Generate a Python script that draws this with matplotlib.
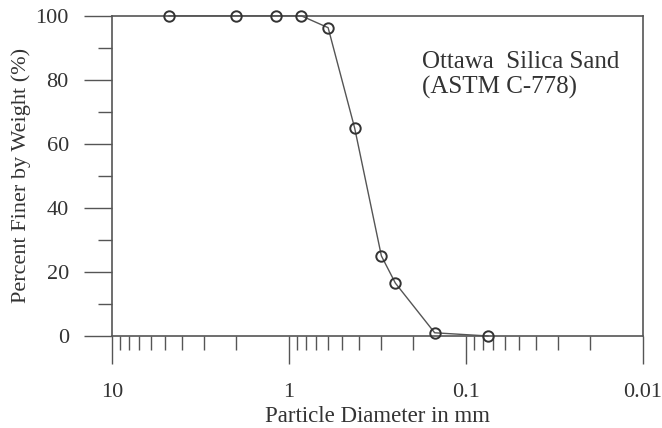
import numpy as np
import matplotlib.pyplot as plt
from matplotlib.ticker import FixedLocator, NullFormatter

# sieve data
diameter_mm = [4.75, 2.0, 1.18, 0.85, 0.6, 0.425, 0.3, 0.25, 0.15, 0.075]
percent_finer = [100, 100, 100, 100, 96.3, 65, 25, 16.5, 1, 0]

x_major = [10, 1, 0.1, 0.01]
x_major_labels = ["10", "1", "0.1", "0.01"]
y_major = [0, 20, 40, 60, 80, 100]
y_minor = [10, 30, 50, 70, 90]

plt.rcParams["font.family"] = ["Liberation Serif", "DejaVu Serif"]
grey = "#555555"
text_grey = "#333333"

fig = plt.figure(figsize=(6.62, 4.28), dpi=100)
ax = fig.add_axes([0.169, 0.215, 0.802, 0.748])

ax.plot(diameter_mm, percent_finer, color=grey, lw=1.0,
        marker="o", ms=7.5, mfc="none", mec="#333333", mew=1.4,
        clip_on=False, zorder=3)

ax.set_xscale("log")
ax.set_xlim(10, 0.01)
ax.set_ylim(0, 100)

ax.xaxis.set_major_locator(FixedLocator(x_major))
ax.set_xticklabels(x_major_labels)
minor_x = [m * 10.0 ** e for e in (-2, -1, 0) for m in range(2, 10)]
ax.xaxis.set_minor_locator(FixedLocator(minor_x))
ax.xaxis.set_minor_formatter(NullFormatter())

ax.yaxis.set_major_locator(FixedLocator(y_major))
ax.yaxis.set_minor_locator(FixedLocator(y_minor))

ax.tick_params(axis="both", which="major", direction="out", length=20,
               width=1.0, color=grey, labelsize=16, labelcolor=text_grey)
ax.tick_params(axis="x", which="major", pad=14)
ax.tick_params(axis="y", which="major", pad=11)
ax.tick_params(axis="both", which="minor", direction="out", length=10,
               width=1.0, color=grey)
ax.tick_params(top=False, right=False)

for s in ax.spines.values():
    s.set_color(grey)
    s.set_linewidth(1.2)

ax.set_xlabel("Particle Diameter in mm", fontsize=16.5, color=text_grey, labelpad=2.5)
ax.set_ylabel("Percent Finer by Weight (%)", fontsize=16, color=text_grey, labelpad=3)

ax.text(0.585, 0.89, "Ottawa  Silica Sand\n(ASTM C-778)", transform=ax.transAxes,
        fontsize=18, color=text_grey, va="top", ha="left", linespacing=1.15)

fig.savefig("out.png", dpi=100)
